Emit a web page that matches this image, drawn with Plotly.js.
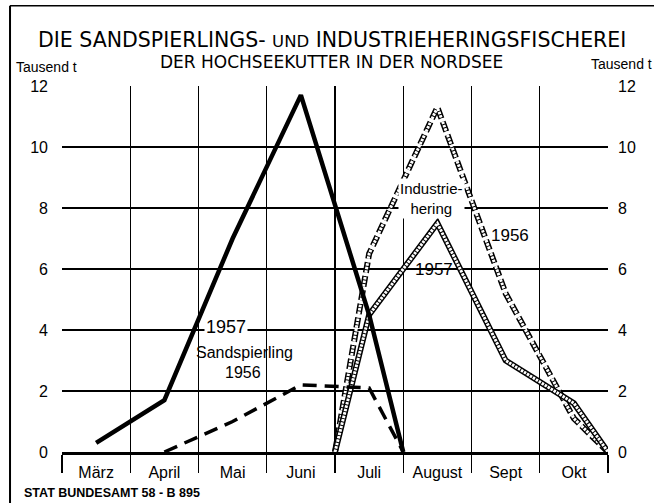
<!DOCTYPE html>
<html>
<head>
<meta charset="utf-8">
<script src="https://cdn.plot.ly/plotly-3.0.1.min.js"></script>
<style>
html,body{margin:0;padding:0;background:#fff;}
#chart{width:654px;height:503px;}
</style>
</head>
<body>
<div id="chart"></div>
<script>
// ---- data (month index: März=0 ... Okt=7; .5 = month boundary) ----
const months = ['März','April','Mai','Juni','Juli','August','Sept','Okt'];
const yTicks = [0,2,4,6,8,10,12];

const sand1957X = [0, 1, 2, 3, 4, 4.5];
const sand1957Y = [0.3, 1.7, 7.0, 11.7, 4.5, 0];

const sand1956X = [1, 2, 3, 4, 4.5];
const sand1956Y = [0, 1.0, 2.2, 2.1, 0];

const ind1957X = [3.5, 4, 5, 6, 7, 7.5];
const ind1957Y = [0, 4.5, 7.5, 3.0, 1.6, 0];

const ind1956X = [3.5, 4, 5, 6, 7, 7.5];
const ind1956Y = [0, 6.5, 11.3, 5.2, 1.1, 0];

const monthIdx = months.map((m,i)=>i);
const boundaries = months.map((m,i)=>i-0.5).concat([months.length-0.5]);

const SANS = '"Liberation Sans", Arial, sans-serif';
const TITLE = '"DejaVu Sans", sans-serif';

const traces = [
  // Industriehering 1956 (dashed chain)
  {x: ind1956X, y: ind1956Y, mode:'lines', line:{color:'#000', width:6, dash:'10.5px,3.5px'}, hoverinfo:'skip', showlegend:false},
  {x: ind1956X, y: ind1956Y, mode:'lines', line:{color:'#fff', width:3, dash:'2.5px,1px'}, hoverinfo:'skip', showlegend:false},
  // Industriehering 1957 (continuous chain)
  {x: ind1957X, y: ind1957Y, mode:'lines', line:{color:'#000', width:6}, hoverinfo:'skip', showlegend:false},
  {x: ind1957X, y: ind1957Y, mode:'lines', line:{color:'#fff', width:3, dash:'2.5px,1px'}, hoverinfo:'skip', showlegend:false},
  // Sandspierling 1956 (dashed)
  {x: sand1956X, y: sand1956Y, yaxis:'y2', mode:'lines', line:{color:'#000', width:3.5, dash:'14px,8px'}, hoverinfo:'skip', showlegend:false},
  // Sandspierling 1957 (solid)
  {x: sand1957X, y: sand1957Y, yaxis:'y2', mode:'lines', line:{color:'#000', width:4.5}, hoverinfo:'skip', showlegend:false}
];

function lab(text, x, y, size, opts){
  return Object.assign({text:text, x:x, y:y, xref:'x', yref:'y', showarrow:false,
    xanchor:'center', yanchor:'middle',
    font:{family:SANS, size:size, color:'#000'}, bgcolor:'#fff', borderpad:1}, opts||{});
}
function paperLab(text, x, y, size, family, opts){
  return Object.assign({text:text, x:x, y:y, xref:'paper', yref:'paper', showarrow:false,
    xanchor:'center', yanchor:'middle',
    font:{family:family, size:size, color:'#000'}}, opts||{});
}

const annotations = [
  paperLab('DIE SANDSPIERLINGS- <span style="font-size:16.5px">UND</span> INDUSTRIEHERINGSFISCHEREI', 0.4945, 1.126, 20.5, TITLE),
  paperLab('DER HOCHSEEKUTTER IN DER NORDSEE', 0.4945, 1.0656, 17, TITLE),
  paperLab('Tausend t', -0.0275, 1.052, 14, SANS),
  paperLab('Tausend t', 1.0256, 1.060, 14, SANS),
  paperLab('<b>STAT BUNDESAMT 58 - B 895</b>', -0.0733, -0.112, 12.5, SANS, {xanchor:'left'}),
  lab('1957', 1.58, 4.1, 18, {xanchor:'left'}),
  lab('Sandspierling', 1.43, 3.25, 16, {xanchor:'left', bgcolor:'rgba(0,0,0,0)'}),
  lab('1956', 2.15, 2.6, 16, {bgcolor:'rgba(0,0,0,0)'}),
  lab('Industrie-<br>hering', 4.92, 8.3, 15),
  lab('1957', 4.95, 5.97, 17, {bgcolor:'rgba(0,0,0,0)'}),
  lab('1956', 6.06, 7.1, 17, {bgcolor:'rgba(0,0,0,0)'})
];

const shapes = [
  {type:'line', xref:'paper', yref:'paper', x0:-0.0952, x1:-0.0952, y0:-0.14, y1:1.219, line:{color:'#000', width:2}},
  {type:'line', xref:'paper', yref:'paper', x0:-0.0952, x1:1.09, y0:1.219, y1:1.219, line:{color:'#000', width:1.5}}
];

const layout = {
  width:654, height:503,
  margin:{l:62, r:46, t:86, b:51, pad:0},
  paper_bgcolor:'#fff', plot_bgcolor:'#fff',
  showlegend:false,
  xaxis:{
    range:[-0.5, months.length-0.5], tickmode:'array', tickvals:monthIdx, ticktext:months,
    ticks:'', showgrid:false, zeroline:false,
    showline:true, linecolor:'#000', linewidth:2.5,
    tickfont:{family:SANS, size:16, color:'#000'}, ticklabelstandoff:4,
    minor:{tickmode:'array', tickvals:boundaries, showgrid:true, gridcolor:'#000', gridwidth:1.3,
           ticks:'outside', ticklen:18, tickwidth:1.3, tickcolor:'#000'}
  },
  yaxis:{
    range:[0,12], tickmode:'array', tickvals:yTicks, ticks:'',
    showgrid:true, gridcolor:'#000', gridwidth:1.3, zeroline:false, showline:false,
    tickfont:{family:SANS, size:16, color:'#000'}, ticklabelstandoff:13
  },
  yaxis2:{
    overlaying:'y', side:'right', range:[0,12], tickmode:'array', tickvals:yTicks, ticks:'',
    showgrid:false, zeroline:false, showline:false,
    tickfont:{family:SANS, size:16, color:'#000'}, ticklabelstandoff:9
  },
  annotations:annotations,
  shapes:shapes
};

Plotly.newPlot('chart', traces, layout, {staticPlot:true, displayModeBar:false});
</script>
</body>
</html>
